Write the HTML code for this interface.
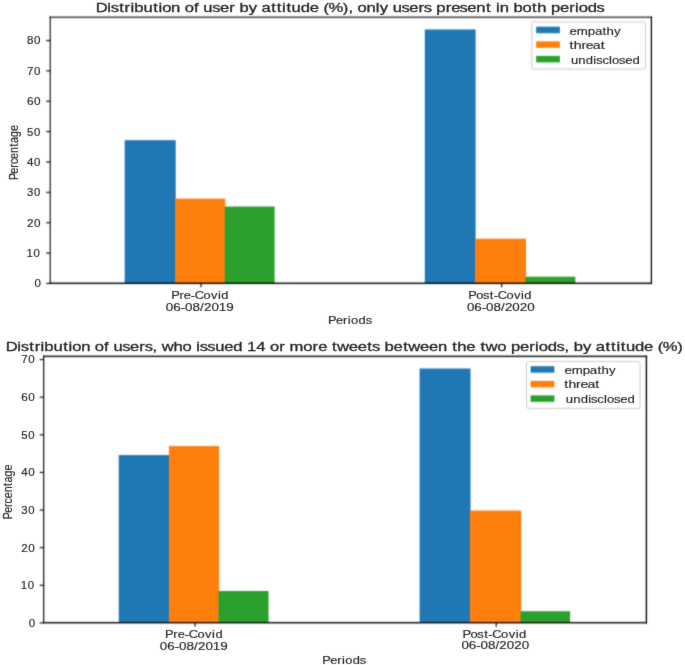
<!DOCTYPE html>
<html><head><meta charset="utf-8"><style>
html,body{margin:0;padding:0;background:#fff;}
body{width:685px;height:665px;overflow:hidden;}
svg{display:block;will-change:transform;}
text{fill:#262626;stroke:#262626;stroke-linejoin:round;}
</style></head><body>
<svg width="685" height="665" viewBox="0 0 685 665" stroke-width="0.15" font-family="'Liberation Sans', sans-serif">
<defs><filter id="bl" x="0" y="0" width="685" height="665" filterUnits="userSpaceOnUse" color-interpolation-filters="sRGB"><feConvolveMatrix order="5" kernelMatrix="0.00002 0.00159 0.00639 0.00159 0.00002 0.00053 0.03400 0.13636 0.03400 0.00053 0.00146 0.09433 0.37832 0.09433 0.00146 0.00053 0.03400 0.13636 0.03400 0.00053 0.00002 0.00159 0.00639 0.00159 0.00002" edgeMode="duplicate" preserveAlpha="true"/></filter><filter id="bt" x="0" y="0" width="685" height="665" filterUnits="userSpaceOnUse" color-interpolation-filters="sRGB"><feConvolveMatrix order="3" kernelMatrix="0.00524 0.06192 0.00524 0.06192 0.73137 0.06192 0.00524 0.06192 0.00524" edgeMode="none" preserveAlpha="false"/></filter></defs>
<g filter="url(#bl)">
<rect width="685" height="665" fill="#fff"/>
<rect x="124.7" y="140.15" width="51.00" height="143.15" fill="#1f77b4"/>
<rect x="175.1" y="198.65" width="50.20" height="84.65" fill="#ff7f0e"/>
<rect x="224.7" y="206.5" width="49.90" height="76.80" fill="#2ca02c"/>
<rect x="424.8" y="29.45" width="50.80" height="253.85" fill="#1f77b4"/>
<rect x="475.0" y="238.7" width="51.00" height="44.60" fill="#ff7f0e"/>
<rect x="525.4" y="276.7" width="49.90" height="6.60" fill="#2ca02c"/>
<rect x="118.75" y="455.1" width="50.75" height="167.60" fill="#1f77b4"/>
<rect x="168.9" y="446.0" width="50.20" height="176.70" fill="#ff7f0e"/>
<rect x="218.5" y="591.0" width="50.05" height="31.70" fill="#2ca02c"/>
<rect x="419.6" y="368.5" width="50.90" height="254.20" fill="#1f77b4"/>
<rect x="469.9" y="510.5" width="51.30" height="112.20" fill="#ff7f0e"/>
<rect x="520.6" y="611.2" width="49.50" height="11.50" fill="#2ca02c"/>
<rect x="49.67" y="16.50" width="1.07" height="267.50" fill="#000"/>
<rect x="650.78" y="16.50" width="1.23" height="267.50" fill="#000"/>
<rect x="49.50" y="16.65" width="602.60" height="1.10" fill="#000"/>
<rect x="49.50" y="282.59" width="602.60" height="1.43" fill="#000"/>
<rect x="46.20" y="282.90" width="4.00" height="1.10" fill="#000"/>
<rect x="46.20" y="252.54" width="4.00" height="1.10" fill="#000"/>
<rect x="46.20" y="222.17" width="4.00" height="1.10" fill="#000"/>
<rect x="46.20" y="191.81" width="4.00" height="1.10" fill="#000"/>
<rect x="46.20" y="161.44" width="4.00" height="1.10" fill="#000"/>
<rect x="46.20" y="131.08" width="4.00" height="1.10" fill="#000"/>
<rect x="46.20" y="100.72" width="4.00" height="1.10" fill="#000"/>
<rect x="46.20" y="70.35" width="4.00" height="1.10" fill="#000"/>
<rect x="46.20" y="39.99" width="4.00" height="1.10" fill="#000"/>
<rect x="200.45" y="283.30" width="1.10" height="4.00" fill="#000"/>
<rect x="501.15" y="283.30" width="1.10" height="4.00" fill="#000"/>
<rect x="531.9" y="22.0" width="113.60" height="47.10" rx="2" ry="2" fill="#fff" stroke="#cccccc" stroke-width="1"/>
<rect x="536.15" y="26.70" width="23.75" height="6.5" fill="#1f77b4"/>
<rect x="536.15" y="41.35" width="23.75" height="6.5" fill="#ff7f0e"/>
<rect x="536.15" y="55.90" width="23.75" height="6.5" fill="#2ca02c"/>
<rect x="43.14" y="355.65" width="1.12" height="267.75" fill="#000"/>
<rect x="645.73" y="355.65" width="1.35" height="267.75" fill="#000"/>
<rect x="43.00" y="355.68" width="604.10" height="1.35" fill="#000"/>
<rect x="43.00" y="622.00" width="604.10" height="1.40" fill="#000"/>
<rect x="39.70" y="622.35" width="4.00" height="1.10" fill="#000"/>
<rect x="39.70" y="584.73" width="4.00" height="1.10" fill="#000"/>
<rect x="39.70" y="547.11" width="4.00" height="1.10" fill="#000"/>
<rect x="39.70" y="509.49" width="4.00" height="1.10" fill="#000"/>
<rect x="39.70" y="471.87" width="4.00" height="1.10" fill="#000"/>
<rect x="39.70" y="434.25" width="4.00" height="1.10" fill="#000"/>
<rect x="39.70" y="396.63" width="4.00" height="1.10" fill="#000"/>
<rect x="39.70" y="359.01" width="4.00" height="1.10" fill="#000"/>
<rect x="194.45" y="622.70" width="1.10" height="4.00" fill="#000"/>
<rect x="495.65" y="622.70" width="1.10" height="4.00" fill="#000"/>
<rect x="526.5" y="361.5" width="113.60" height="46.90" rx="2" ry="2" fill="#fff" stroke="#cccccc" stroke-width="1"/>
<rect x="530.6" y="366.20" width="23.80" height="6.5" fill="#1f77b4"/>
<rect x="530.6" y="380.85" width="23.80" height="6.5" fill="#ff7f0e"/>
<rect x="530.6" y="395.40" width="23.80" height="6.5" fill="#2ca02c"/>
</g>
<g filter="url(#bt)">
<text transform="translate(0,11.70) scale(1.2977,1)" x="73.70 82.73 85.40 91.90 96.02 100.56 103.50 110.56 118.04 122.13 124.94 131.87 138.94 142.34 149.48 153.21 156.72 163.50 169.46 176.60 181.01 184.53 191.71 198.20 201.59 208.96 213.33 217.41 220.78 224.71 231.76 238.72 245.69 249.28 253.17 264.19 268.48 272.02 275.41 282.34 289.55 292.61 299.09 302.60 309.39 315.35 322.49 326.61 332.69 336.21 343.46 347.74 354.18 360.14 367.09 374.58 378.53 382.20 385.13 392.21 395.73 402.66 410.03 413.95 421.03 424.55 431.50 438.64 443.18 445.99 452.93 459.72" y="0" font-size="12.8" stroke-width="0.3">Distribution of user by attitude (%), only users present in both periods</text>
<text transform="translate(0,287.35) scale(1.1261,1)" x="30.73" y="0" font-size="10.3">0</text>
<text transform="translate(0,256.99) scale(1.1134,1)" x="23.84 30.13" y="0" font-size="10.3">10</text>
<text transform="translate(0,226.62) scale(1.1360,1)" x="23.75 29.91" y="0" font-size="10.3">20</text>
<text transform="translate(0,196.26) scale(1.1009,1)" x="24.60 30.96" y="0" font-size="10.3">30</text>
<text transform="translate(0,165.89) scale(1.1258,1)" x="23.99 30.21" y="0" font-size="10.3">40</text>
<text transform="translate(0,135.53) scale(1.1033,1)" x="24.54 30.88" y="0" font-size="10.3">50</text>
<text transform="translate(0,105.17) scale(1.1453,1)" x="23.53 29.64" y="0" font-size="10.3">60</text>
<text transform="translate(0,74.80) scale(1.1178,1)" x="24.18 30.44" y="0" font-size="10.3">70</text>
<text transform="translate(0,44.44) scale(1.1305,1)" x="23.88 30.07" y="0" font-size="10.3">80</text>
<text transform="translate(0,298.80) scale(1.2496,1)" x="137.02 143.58 147.15 152.74 155.79 162.88 168.91 174.48 177.11" y="0" font-size="10.3">Pre-Covid</text>
<text transform="translate(0,310.80) scale(1.3048,1)" x="127.09 132.82 138.46 141.80 147.52 153.34 156.29 162.02 167.75 173.48" y="0" font-size="10.3">06-08/2019</text>
<text transform="translate(0,298.80) scale(1.2499,1)" x="374.69 381.03 386.36 391.84 395.13 398.16 405.23 411.24 416.80 419.42" y="0" font-size="10.3">Post-Covid</text>
<text transform="translate(0,310.80) scale(1.3000,1)" x="359.19 364.91 370.55 373.89 379.62 385.44 388.39 394.12 399.85 405.58" y="0" font-size="10.3">06-08/2020</text>
<text transform="translate(0,323.90) scale(1.2535,1)" x="261.60 267.96 273.64 277.49 280.00 285.92 291.70" y="0" font-size="10.3">Periods</text>
<text transform="translate(18.40,178.50) scale(1.165,1) rotate(-90) scale(1.0425,1)" x="-1.55 4.67 10.24 13.84 18.75 24.54 30.72 33.95 39.73 45.52" y="0" font-size="10.3">Percentage</text>
<text transform="translate(0,34.90) scale(1.2876,1)" x="442.38 448.00 456.56 462.09 467.98 471.10 476.82" y="0" font-size="10.3">empathy</text>
<text transform="translate(0,49.20) scale(1.3682,1)" x="416.29 419.28 424.93 428.20 433.30 439.06" y="0" font-size="10.3">threat</text>
<text transform="translate(0,64.10) scale(1.2694,1)" x="449.80 455.63 461.47 467.39 469.63 474.56 479.80 482.17 487.67 492.61 498.36" y="0" font-size="10.3">undisclosed</text>
<text transform="translate(0,350.80) scale(1.2964,1)" x="4.36 13.41 16.08 22.59 26.72 31.27 34.22 41.29 48.79 52.88 55.71 62.65 69.74 73.14 80.30 84.03 87.55 94.35 100.33 107.48 111.61 117.70 121.25 124.74 133.89 140.84 147.80 151.48 154.16 159.96 166.04 173.01 179.98 187.07 190.61 197.70 204.80 208.20 215.33 219.75 223.40 234.02 241.15 245.44 252.18 256.14 260.04 269.09 275.95 283.35 287.02 293.12 296.65 303.62 311.01 314.92 323.97 330.83 337.79 344.88 348.84 352.78 359.74 366.72 370.68 374.58 383.62 390.58 394.11 401.08 408.23 412.78 415.60 422.55 429.36 435.45 439.00 442.53 449.73 456.22 459.63 467.01 471.38 475.47 478.85 482.79 489.86 496.83 503.82 507.41 511.32 522.36" y="0" font-size="12.8" stroke-width="0.3">Distribution of users, who issued 14 or more tweets between the two periods, by attitude (%)</text>
<text transform="translate(0,626.80) scale(1.1261,1)" x="25.49" y="0" font-size="10.3">0</text>
<text transform="translate(0,589.18) scale(1.1134,1)" x="18.63 24.92" y="0" font-size="10.3">10</text>
<text transform="translate(0,551.56) scale(1.1360,1)" x="18.64 24.80" y="0" font-size="10.3">20</text>
<text transform="translate(0,513.94) scale(1.1009,1)" x="19.33 25.69" y="0" font-size="10.3">30</text>
<text transform="translate(0,476.32) scale(1.1258,1)" x="18.84 25.05" y="0" font-size="10.3">40</text>
<text transform="translate(0,438.70) scale(1.1033,1)" x="19.28 25.63" y="0" font-size="10.3">50</text>
<text transform="translate(0,401.08) scale(1.1453,1)" x="18.47 24.58" y="0" font-size="10.3">60</text>
<text transform="translate(0,363.46) scale(1.1178,1)" x="18.99 25.25" y="0" font-size="10.3">70</text>
<text transform="translate(0,638.20) scale(1.2542,1)" x="131.65 138.21 141.78 147.37 150.42 157.51 163.54 169.11 171.74" y="0" font-size="10.3">Pre-Covid</text>
<text transform="translate(0,650.20) scale(1.3048,1)" x="122.49 128.22 133.86 137.20 142.93 148.74 151.69 157.42 163.15 168.88" y="0" font-size="10.3">06-08/2019</text>
<text transform="translate(0,638.00) scale(1.2644,1)" x="365.78 372.12 377.46 382.94 386.23 389.25 396.33 402.34 407.90 410.51" y="0" font-size="10.3">Post-Covid</text>
<text transform="translate(0,649.30) scale(1.2980,1)" x="355.49 361.22 366.86 370.20 375.93 381.75 384.69 390.42 396.15 401.88" y="0" font-size="10.3">06-08/2020</text>
<text transform="translate(0,663.50) scale(1.2490,1)" x="258.03 264.39 270.07 273.92 276.42 282.35 288.13" y="0" font-size="10.3">Periods</text>
<text transform="translate(12.00,517.70) scale(1.165,1) rotate(-90) scale(1.0346,1)" x="-1.55 4.67 10.24 13.84 18.75 24.54 30.72 33.95 39.73 45.52" y="0" font-size="10.3">Percentage</text>
<text transform="translate(0,373.90) scale(1.2927,1)" x="436.59 442.21 450.77 456.30 462.19 465.31 471.03" y="0" font-size="10.3">empathy</text>
<text transform="translate(0,388.20) scale(1.3601,1)" x="414.93 417.92 423.57 426.84 431.94 437.70" y="0" font-size="10.3">threat</text>
<text transform="translate(0,403.10) scale(1.2732,1)" x="444.37 450.21 456.04 461.96 464.21 469.13 474.37 476.74 482.24 487.18 492.93" y="0" font-size="10.3">undisclosed</text>
</g>
</svg>
</body></html>
